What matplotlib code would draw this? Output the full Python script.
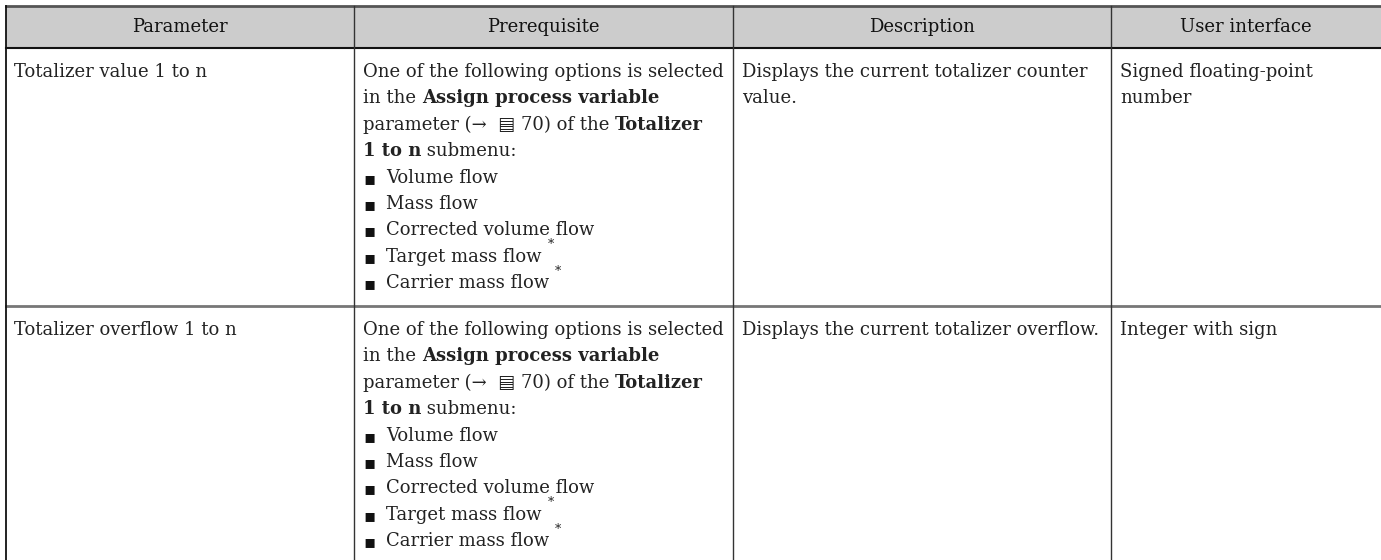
import matplotlib
matplotlib.use('Agg')
import matplotlib.pyplot as plt
from matplotlib.patches import Rectangle

plt.rcParams['font.family'] = ['DejaVu Serif', 'DejaVu Sans']

headers = ['Parameter', 'Prerequisite', 'Description', 'User interface']
col_edges = [6, 354, 733, 1111, 1381]

parameters = ['Totalizer value 1 to n', 'Totalizer overflow 1 to n']
descriptions = [['Displays the current totalizer counter', 'value.'],
                ['Displays the current totalizer overflow.']]
user_interface = [['Signed floating-point', 'number'],
                  ['Integer with sign']]
# prerequisite text: list of lines, each line list of (text, bold)
prereq_lines = [
    [('One of the following options is selected', False)],
    [('in the ', False), ('Assign process variable', True)],
    [('parameter (\u2192  \u25A4 70) of the ', False), ('Totalizer', True)],
    [('1 to n', True), (' submenu:', False)],
]
options = ['Volume flow', 'Mass flow', 'Corrected volume flow',
           'Target mass flow', 'Carrier mass flow']
starred = [False, False, False, True, True]

fs = 13
line_h = 26.4
header_y = 27
row_tops = [48, 306]

fig = plt.figure(figsize=(13.81, 5.6), dpi=100)
ax = fig.add_axes([0, 0, 1, 1])
ax.set_xlim(0, 1381)
ax.set_ylim(560, 0)
ax.axis('off')
renderer = fig.canvas.get_renderer()

# header
ax.add_patch(Rectangle((col_edges[0], 6), col_edges[-1] - col_edges[0], 42,
                       facecolor='#cccccc', edgecolor='none'))
ax.plot([col_edges[0], 1381], [6, 6], color='#555555', lw=2)
ax.plot([col_edges[0], 1381], [48, 48], color='#111111', lw=1.5)
ax.plot([col_edges[0], 1381], [306, 306], color='#777777', lw=2)
ax.plot([col_edges[0], col_edges[0]], [6, 560], color='#111111', lw=1.3)
for xe in col_edges[1:-1]:
    ax.plot([xe, xe], [6, 560], color='#333333', lw=1)

for i, h in enumerate(headers):
    xc = (col_edges[i] + col_edges[i + 1]) / 2
    ax.text(xc, header_y, h, ha='center', va='center', fontsize=13,
            color='#111111')


def rich(x, y, segs):
    for txt, bold in segs:
        t = ax.text(x, y, txt, ha='left', va='center_baseline', fontsize=fs,
                    fontweight='bold' if bold else 'normal', color='#222222')
        w = t.get_window_extent(renderer).width
        x += w


for r, top in enumerate(row_tops):
    y0 = top + 22
    ax.text(col_edges[0] + 8, y0, parameters[r], ha='left', va='center_baseline',
            fontsize=fs, color='#222222')
    for k, s in enumerate(descriptions[r]):
        ax.text(col_edges[2] + 9, y0 + k * line_h, s, ha='left',
                va='center_baseline', fontsize=fs, color='#222222')
    for k, s in enumerate(user_interface[r]):
        ax.text(col_edges[3] + 9, y0 + k * line_h, s, ha='left',
                va='center_baseline', fontsize=fs, color='#222222')
    x_p = col_edges[1] + 9
    for k, segs in enumerate(prereq_lines):
        rich(x_p, y0 + k * line_h, segs)
    for k, opt in enumerate(options):
        yy = y0 + (len(prereq_lines) + k) * line_h
        ax.text(x_p, yy + 1, '\u25AA', ha='left', va='center_baseline',
                fontsize=fs, color='#111111', family='DejaVu Sans')
        t = ax.text(x_p + 23, yy, opt, ha='left', va='center_baseline',
                    fontsize=fs, color='#222222')
        if starred[k]:
            w = t.get_window_extent(renderer).width
            ax.text(x_p + 23 + w + 6, yy - 10, '*', ha='left', va='center',
                    fontsize=fs * 0.7, color='#222222')

fig.savefig('out.png', dpi=100)
